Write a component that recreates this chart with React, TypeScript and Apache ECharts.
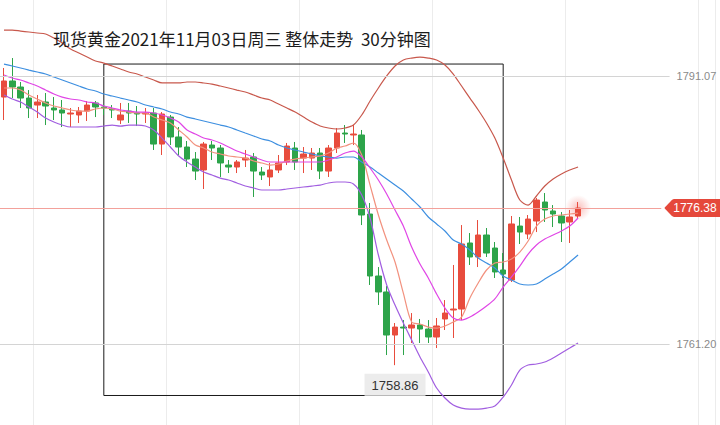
import React, { useEffect, useRef } from "react";
import * as echarts from "echarts";

const titleText = "现货黄金2021年11月03日周三 整体走势 \u00a030分钟图";

// 30-minute candles: [open, close, low, high]
const kline: number[][] = [
  [1788.75, 1790.54, 1786.19, 1791.99],
  [1790.54, 1789.87, 1788.64, 1793.10],
  [1789.87, 1788.64, 1787.53, 1790.43],
  [1788.64, 1787.53, 1786.41, 1789.53],
  [1787.86, 1788.20, 1786.41, 1788.98],
  [1788.20, 1787.75, 1785.63, 1789.20],
  [1787.53, 1787.31, 1786.19, 1788.75],
  [1787.31, 1786.97, 1785.41, 1788.42],
  [1786.86, 1786.97, 1785.41, 1787.53],
  [1786.75, 1787.19, 1785.86, 1787.64],
  [1787.19, 1787.86, 1786.08, 1788.31],
  [1788.09, 1787.64, 1786.52, 1788.31],
  [1787.64, 1787.53, 1786.75, 1787.97],
  [1787.42, 1787.31, 1786.41, 1787.86],
  [1786.19, 1786.75, 1785.74, 1788.09],
  [1787.19, 1786.97, 1785.86, 1788.09],
  [1786.97, 1786.86, 1785.52, 1787.75],
  [1786.86, 1786.97, 1785.86, 1787.53],
  [1786.97, 1783.51, 1782.85, 1787.53],
  [1783.51, 1786.86, 1782.29, 1787.08],
  [1786.52, 1784.30, 1783.40, 1786.75],
  [1784.30, 1783.18, 1782.29, 1785.41],
  [1783.18, 1781.84, 1780.95, 1783.85],
  [1781.84, 1780.50, 1779.50, 1782.62],
  [1780.62, 1783.51, 1778.50, 1783.74],
  [1783.40, 1783.07, 1781.73, 1783.85],
  [1783.07, 1781.40, 1779.84, 1783.40],
  [1781.17, 1780.95, 1780.28, 1781.73],
  [1780.95, 1781.51, 1780.28, 1781.73],
  [1781.73, 1781.95, 1780.95, 1782.85],
  [1782.07, 1780.50, 1777.61, 1782.51],
  [1780.39, 1780.06, 1779.50, 1780.95],
  [1779.84, 1780.62, 1778.83, 1781.40],
  [1780.62, 1781.40, 1780.28, 1782.29],
  [1781.51, 1783.29, 1781.17, 1783.63],
  [1783.07, 1781.51, 1780.62, 1783.74],
  [1781.95, 1782.40, 1780.28, 1783.18],
  [1781.95, 1782.51, 1780.62, 1783.07],
  [1782.51, 1780.50, 1779.61, 1783.07],
  [1780.50, 1783.07, 1779.84, 1783.40],
  [1783.07, 1784.74, 1782.51, 1785.30],
  [1784.74, 1784.63, 1783.63, 1785.63],
  [1784.52, 1784.63, 1783.40, 1785.63],
  [1784.52, 1775.60, 1774.48, 1785.08],
  [1775.71, 1768.80, 1767.80, 1776.94],
  [1768.80, 1767.02, 1765.57, 1769.80],
  [1767.02, 1762.22, 1759.99, 1767.68],
  [1762.22, 1763.11, 1758.86, 1763.56],
  [1763.11, 1763.00, 1759.99, 1763.89],
  [1763.00, 1763.34, 1761.33, 1764.67],
  [1763.34, 1762.89, 1761.33, 1764.01],
  [1762.89, 1762.00, 1761.33, 1763.89],
  [1762.00, 1763.23, 1760.77, 1764.12],
  [1764.01, 1764.67, 1762.78, 1766.12],
  [1765.01, 1765.12, 1761.89, 1770.03],
  [1765.12, 1772.37, 1763.89, 1774.48],
  [1772.48, 1770.92, 1770.03, 1773.59],
  [1770.92, 1773.37, 1769.80, 1775.04],
  [1773.37, 1771.36, 1770.92, 1774.15],
  [1771.92, 1769.25, 1768.58, 1772.59],
  [1769.47, 1769.02, 1768.58, 1771.36],
  [1768.35, 1774.60, 1768.13, 1775.49],
  [1774.37, 1773.70, 1772.37, 1775.38],
  [1773.48, 1775.15, 1772.92, 1775.60],
  [1774.93, 1777.27, 1773.70, 1777.49],
  [1777.05, 1776.16, 1774.82, 1778.05],
  [1776.05, 1775.71, 1774.26, 1776.71],
  [1775.49, 1774.71, 1772.59, 1775.93],
  [1774.82, 1775.38, 1772.48, 1776.16],
  [1775.49, 1776.38, 1775.27, 1777.05],
];

const bollUpper = [
  1796.22, 1796.22, 1796.11, 1796.00, 1795.89, 1795.78, 1795.33, 1794.77, 1794.11, 1793.66,
  1793.21, 1792.77, 1792.54, 1792.21, 1791.88, 1791.54, 1791.32, 1790.98, 1790.65, 1790.32,
  1790.32, 1790.32, 1790.43, 1790.43, 1790.32, 1790.20, 1789.98, 1789.76, 1789.53, 1789.31,
  1788.98, 1788.64, 1788.42, 1787.97, 1787.53, 1787.08, 1786.52, 1785.97, 1785.52, 1785.30,
  1785.19, 1785.30, 1785.63, 1786.75, 1788.31, 1789.76, 1791.10, 1792.21, 1792.88, 1793.10,
  1793.21, 1793.10, 1792.88, 1792.32, 1791.32, 1789.98, 1788.64, 1787.31, 1785.86, 1784.18,
  1781.95, 1779.50, 1777.27, 1776.71, 1777.72, 1778.83, 1779.61, 1780.17, 1780.62, 1780.95,
];

const bollMid = [
  1792.43, 1792.21, 1791.99, 1791.76, 1791.54, 1791.32, 1790.98, 1790.65, 1790.32, 1789.98,
  1789.65, 1789.42, 1789.09, 1788.87, 1788.64, 1788.42, 1788.20, 1787.86, 1787.64, 1787.42,
  1787.08, 1786.86, 1786.52, 1786.30, 1786.08, 1785.86, 1785.63, 1785.41, 1785.08, 1784.74,
  1784.41, 1784.07, 1783.85, 1783.40, 1783.07, 1782.85, 1782.62, 1782.40, 1782.18, 1782.07,
  1781.95, 1782.07, 1782.07, 1781.51, 1780.95, 1780.28, 1779.61, 1778.94, 1778.28, 1777.38,
  1776.49, 1775.38, 1774.60, 1773.82, 1772.81, 1772.37, 1771.70, 1770.81, 1770.25, 1769.69,
  1768.80, 1768.35, 1767.91, 1767.80, 1767.91, 1768.46, 1769.02, 1769.58, 1770.36, 1771.14,
];

const bollLower = [
  1788.98, 1788.53, 1788.20, 1787.64, 1787.08, 1786.41, 1785.97, 1785.63, 1785.41, 1785.41,
  1785.41, 1785.41, 1785.52, 1785.63, 1785.52, 1785.63, 1785.63, 1785.52, 1785.08, 1784.18,
  1783.18, 1782.18, 1781.51, 1780.95, 1780.39, 1780.06, 1779.72, 1779.50, 1779.17, 1778.83,
  1778.61, 1778.39, 1778.39, 1778.39, 1778.50, 1778.61, 1778.72, 1778.83, 1778.94, 1779.17,
  1779.28, 1779.28, 1779.06, 1777.83, 1775.27, 1771.14, 1767.80, 1765.57, 1763.56, 1761.66,
  1759.77, 1758.10, 1756.31, 1755.20, 1754.42, 1754.08, 1753.97, 1753.97, 1754.08, 1754.31,
  1755.31, 1756.65, 1758.32, 1758.88, 1758.99, 1759.21, 1759.66, 1760.22, 1760.77, 1761.33,
];

const ma5 = [
  1789.76, 1789.76, 1789.53, 1788.98, 1788.53, 1788.09, 1787.75, 1787.53, 1787.31, 1787.19,
  1787.19, 1787.42, 1787.53, 1787.42, 1787.19, 1787.08, 1786.97, 1786.97, 1786.52, 1786.19,
  1785.86, 1785.08, 1784.30, 1783.40, 1783.07, 1782.62, 1782.40, 1782.18, 1782.07, 1781.95,
  1781.62, 1781.40, 1781.17, 1781.29, 1781.62, 1781.84, 1781.95, 1782.07, 1782.18, 1782.51,
  1783.07, 1783.29, 1783.63, 1782.29, 1778.94, 1775.60, 1772.81, 1770.36, 1766.90, 1763.67,
  1763.45, 1763.11, 1763.00, 1763.23, 1763.67, 1764.23, 1766.35, 1768.02, 1769.47, 1770.25,
  1770.36, 1770.69, 1771.47, 1772.70, 1774.37, 1775.15, 1775.49, 1775.60, 1775.71, 1775.82,
];

const ma10 = [
  1791.21, 1790.87, 1790.65, 1790.32, 1789.98, 1789.53, 1789.09, 1788.75, 1788.53, 1788.42,
  1788.20, 1788.09, 1787.75, 1787.53, 1787.31, 1787.19, 1787.08, 1787.08, 1786.97, 1786.75,
  1786.41, 1785.97, 1785.08, 1784.63, 1784.18, 1783.96, 1783.63, 1783.18, 1782.73, 1782.40,
  1782.07, 1781.73, 1781.51, 1781.51, 1781.51, 1781.51, 1781.51, 1781.51, 1781.51, 1781.73,
  1782.07, 1782.51, 1782.73, 1782.07, 1780.84, 1779.50, 1777.94, 1776.16, 1774.37, 1772.03,
  1770.14, 1768.58, 1766.79, 1765.23, 1764.12, 1763.89, 1764.23, 1764.79, 1765.45, 1766.24,
  1767.57, 1768.69, 1769.91, 1771.25, 1772.26, 1772.92, 1773.37, 1773.82, 1774.37, 1775.27,
];

const gridPrices = [1791.07, 1761.2];
const lastPrice = 1776.38;
// hand-drawn annotation box: candle indices and price bounds
const boxFromCandle = 12;
const boxToCandle = 60;
const boxHigh = 1792.43;
const boxLow = 1755.48;
const priceMin = 1752.19;
const priceMax = 1799.57;

const RED = "#e84c3d";
const GREEN = "#2da44a";
const NUM_FONT = "'Liberation Sans', Arial, sans-serif";

const badgeSvg =
  "<svg xmlns='http://www.w3.org/2000/svg' width='62' height='18' viewBox='0 0 62 18' preserveAspectRatio='none'>" +
  "<path d='M0 9 L8 1.2 Q9.3 0 11 0 H62 V18 H11 Q9.3 18 8 16.8 Z' fill='#e5483b'/></svg>";
const badgeUri = "data:image/svg+xml;charset=utf-8," + encodeURIComponent(badgeSvg);

export default function App() {
  const ref = useRef<HTMLDivElement>(null);

  useEffect(() => {
    if (!ref.current) return;
    const chart = echarts.init(ref.current, null, { renderer: "svg" });
    const n = kline.length;
    const lead = 1;
    const tail = 16;
    const step = 8.32;
    const slots = Array.from({ length: lead + n + tail }, (_, i) => "t" + i);
    const padded = (arr: any[]) => ["-", ...arr];
    const redEnd = lead + n + 9;
    const greyEnd = lead + n + 10;

    const lineSeries = (name: string, data: number[], color: string) => ({
      name,
      type: "line",
      data: padded(data),
      symbol: "none",
      showSymbol: false,
      silent: true,
      smooth: 0.3,
      lineStyle: { color, width: 1.2 },
      z: 3,
    });

    chart.setOption({
      animation: false,
      backgroundColor: "#ffffff",
      title: {
        text: titleText,
        left: 53,
        top: 30,
        padding: 0,
        textStyle: {
          fontSize: 17,
          fontWeight: "normal",
          color: "#1c1c1c",
          fontFamily: "'Noto Sans CJK SC', sans-serif",
        },
      },
      grid: {
        left: -8.5,
        top: 0,
        width: slots.length * step,
        height: 425,
        outerBoundsMode: "none",
        containLabel: false,
      },
      xAxis: {
        type: "category",
        data: slots,
        boundaryGap: true,
        axisLine: { show: false },
        axisTick: { show: false },
        axisLabel: { show: false },
        splitLine: {
          show: true,
          interval: (i: number) => i >= 5 && (i - 5) % 16 === 0,
          lineStyle: { color: "#ececec", width: 1 },
        },
      },
      yAxis: {
        type: "value",
        min: priceMin,
        max: priceMax,
        show: false,
        splitLine: { show: false },
      },
      series: [
        {
          name: "glow",
          type: "scatter",
          data: [[lead + n - 1, kline[n - 1][1]]],
          symbolSize: 26,
          silent: true,
          z: 1,
          itemStyle: {
            color: new echarts.graphic.RadialGradient(0.5, 0.5, 0.5, [
              { offset: 0, color: "rgba(240,80,70,0.45)" },
              { offset: 1, color: "rgba(240,80,70,0)" },
            ]),
          },
        },
        {
          name: "K",
          type: "candlestick",
          data: padded(kline),
          barWidth: 6,
          silent: true,
          z: 2,
          itemStyle: {
            color: RED,
            color0: GREEN,
            borderColor: RED,
            borderColor0: GREEN,
            borderWidth: 1,
          },
          markLine: {
            silent: true,
            symbol: ["none", "none"],
            animation: false,
            data: [
              ...gridPrices.map((v) => [
                {
                  xAxis: 0,
                  yAxis: v,
                  lineStyle: { color: "#d4d4d4", width: 1, type: "solid" },
                  label: {
                    show: true,
                    position: "end",
                    distance: 7,
                    formatter: v.toFixed(2),
                    color: "#8a8a8a",
                    fontSize: 11,
                    fontFamily: NUM_FONT,
                  },
                },
                { xAxis: greyEnd, yAxis: v },
              ]),
              [
                {
                  xAxis: 0,
                  yAxis: lastPrice,
                  lineStyle: { color: "#f3a19b", width: 1, type: "solid" },
                  label: {
                    show: true,
                    position: "end",
                    distance: 3,
                    formatter: lastPrice.toFixed(2),
                    color: "#ffffff",
                    fontSize: 12,
                    lineHeight: 14,
                    fontFamily: NUM_FONT,
                    backgroundColor: { image: badgeUri },
                    padding: [2, 5, 2, 9],
                  },
                },
                { xAxis: redEnd, yAxis: lastPrice },
              ],
            ],
          },
          markArea: {
            silent: true,
            itemStyle: { color: "rgba(0,0,0,0)", borderColor: "#1a1a1a", borderWidth: 1 },
            data: [
              [
                { xAxis: lead + boxFromCandle, yAxis: boxHigh },
                { xAxis: lead + boxToCandle, yAxis: boxLow },
              ],
            ],
          },
          markPoint: {
            silent: true,
            symbol: "circle",
            symbolSize: 1,
            itemStyle: { color: "rgba(0,0,0,0)" },
            data: [{ type: "min", valueDim: "lowest" }],
            label: {
              show: true,
              position: "bottom",
              distance: 8,
              formatter: (p: any) => Number(p.value).toFixed(2),
              color: "#333333",
              fontSize: 13,
              fontFamily: NUM_FONT,
              backgroundColor: "#ececec",
              padding: [5, 7, 4, 7],
            },
          },
        },
        lineSeries("BOLL-UP", bollUpper, "#c8584c"),
        lineSeries("BOLL-MID", bollMid, "#3d8fe0"),
        lineSeries("BOLL-DN", bollLower, "#a15ee0"),
        lineSeries("MA5", ma5, "#f2917e"),
        lineSeries("MA10", ma10, "#e046e6"),
      ],
    });

    return () => chart.dispose();
  }, []);

  return (
    <div
      ref={ref}
      style={{ position: "fixed", left: 0, top: 0, width: 720, height: 425, background: "#fff" }}
    />
  );
}
